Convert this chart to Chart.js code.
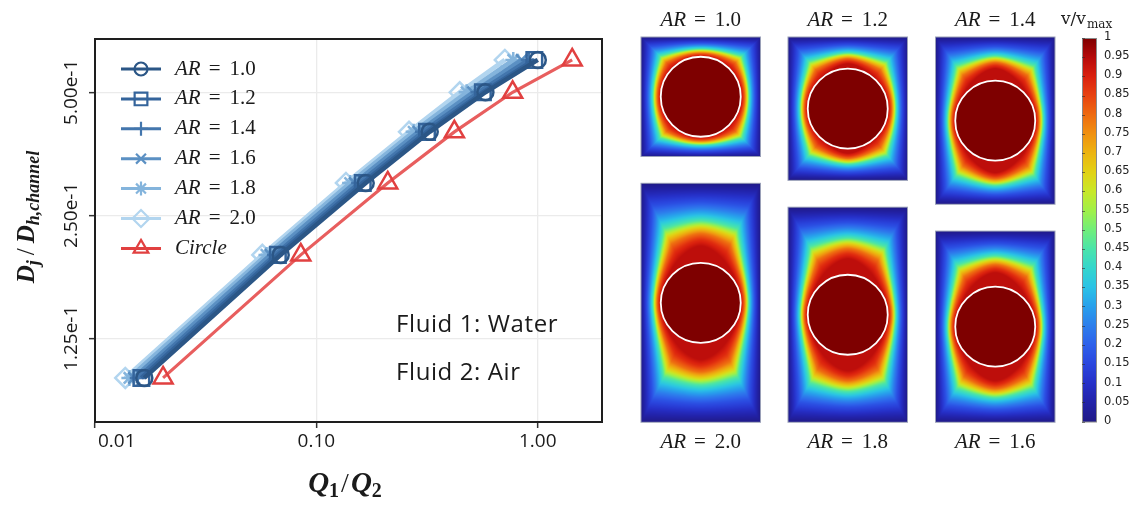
<!DOCTYPE html>
<html><head><meta charset="utf-8">
<script src="https://cdn.jsdelivr.net/npm/chart.js@4/dist/chart.umd.min.js"></script>
<style>html,body{margin:0;padding:0;background:#fff;overflow:hidden}canvas{display:block}</style>
</head><body>
<canvas id="c" width="1135" height="505"></canvas>
<script>
// ---------------- data ----------------
const seriesNames = ['AR = 1.0', 'AR = 1.2', 'AR = 1.4', 'AR = 1.6', 'AR = 1.8', 'AR = 2.0', 'Circle'];
const djRatio = [0.1, 0.2, 0.3, 0.4, 0.5, 0.6];
const qAR10 = [0.0167, 0.069, 0.167, 0.325, 0.58, 1.0];
const qAR12 = [0.0162, 0.067, 0.162, 0.316, 0.565, 0.965];
const qAR14 = [0.0156, 0.065, 0.156, 0.303, 0.54, 0.91];
const qAR16 = [0.0150, 0.062, 0.149, 0.289, 0.51, 0.845];
const qAR18 = [0.0143, 0.0595, 0.142, 0.275, 0.477, 0.775];
const qAR20 = [0.0137, 0.057, 0.136, 0.262, 0.444, 0.71];
const qCircle = [0.0203, 0.085, 0.21, 0.42, 0.77, 1.43];
const xTickValues = [0.01, 0.1, 1];
const xTickLabels = ['0.01', '0.10', '1.00'];
const yTickValues = [0.125, 0.25, 0.5];
const yTickLabels = ['1.25e-1', '2.50e-1', '5.00e-1'];
const panelAR = [1.0, 1.2, 1.4, 2.0, 1.8, 1.6];
const panelLabels = ['1.0', '1.2', '1.4', '2.0', '1.8', '1.6'];
const colorbarTicks = [0, 0.05, 0.1, 0.15, 0.2, 0.25, 0.3, 0.35, 0.4, 0.45, 0.5, 0.55, 0.6, 0.65, 0.7, 0.75, 0.8, 0.85, 0.9, 0.95, 1];
const colorbarLabels = ['0', '0.05', '0.1', '0.15', '0.2', '0.25', '0.3', '0.35', '0.4', '0.45', '0.5', '0.55', '0.6', '0.65', '0.7', '0.75', '0.8', '0.85', '0.9', '0.95', '1'];

// ---------------- styles ----------------
const seriesX = [qAR10, qAR12, qAR14, qAR16, qAR18, qAR20, qCircle];
const seriesColor = ['#2b5686', '#34649b', '#4376ad', '#5b90c3', '#84b4dc', '#b2d5ef', '#e14040'];
const lineColor = ['#2b5686', '#34649b', '#4376ad', '#5b90c3', '#84b4dc', '#b2d5ef', '#e85e5e'];
const seriesStyle = ['circle', 'rect', 'cross', 'crossRot', 'star', 'rectRot', 'triangle'];
const seriesRadius = [8, 11, 8, 8, 8, 10, 11];
const legendRadius = [6.5, 9, 7, 7, 7, 8.5, 8.5];

const cmapStops = [
  [0.00, 32, 26, 135], [0.05, 34, 34, 168], [0.10, 38, 48, 200], [0.15, 42, 70, 222],
  [0.20, 45, 96, 234], [0.25, 45, 126, 236], [0.30, 40, 160, 236], [0.35, 42, 194, 230],
  [0.40, 52, 214, 205], [0.45, 74, 228, 170], [0.50, 112, 238, 122], [0.55, 160, 240, 72],
  [0.60, 200, 232, 40], [0.65, 226, 210, 20], [0.70, 236, 180, 16], [0.75, 240, 145, 16],
  [0.80, 238, 106, 16], [0.85, 232, 66, 16], [0.90, 218, 32, 14], [0.95, 182, 10, 10], [1.00, 126, 0, 0]
];
function lerpTable(tab, v) {
  if (v <= tab[0][0]) return tab[0].slice(1);
  for (let i = 1; i < tab.length; i++) {
    const b = tab[i];
    if (v <= b[0]) {
      const a = tab[i - 1];
      const t = (v - a[0]) / (b[0] - a[0]);
      return a.slice(1).map((x, k) => x + t * (b[k + 1] - x));
    }
  }
  return tab[tab.length - 1].slice(1);
}
function cmap(v) { return lerpTable(cmapStops, Math.max(0, Math.min(1, v))); }
// fall-off of the velocity between the fast core (s=0) and the wall (s=1)
const profileStops = [[0, 0.94], [0.1, 0.88], [0.2, 0.79], [0.3, 0.64], [0.4, 0.46], [0.5, 0.34], [0.6, 0.25], [0.7, 0.17], [0.85, 0.08], [1, 0]];
// vertical stretch of the fast core around the droplet, per panel
const coreStretch = [1.0, 1.12, 1.3, 1.42, 1.4, 1.35];
const CORE_Q = 1.7;

// panel geometry
const PW = 119.5, PR = 40;
const colX = [641, 788, 935.5];
const topRowY = 37, bottomRowBottom = 422.3;
function panelRect(i) {
  const ar = panelAR[i];
  const h = PW * ar;
  const x = colX[i % 3];
  const y = i < 3 ? topRowY : bottomRowBottom - h;
  return { x, y, w: PW, h, ar };
}
function buildPanel(i) {
  const r = panelRect(i);
  const W = Math.round(r.w), H = Math.round(r.h);
  const cv = document.createElement('canvas'); cv.width = W; cv.height = H;
  const c2 = cv.getContext('2d');
  const img = c2.createImageData(W, H);
  const hw = W / 2, hh = H / 2;
  const bR = PR * coreStretch[i];
  for (let j = 0; j < H; j++) {
    for (let k = 0; k < W; k++) {
      const dx = k + 0.5 - hw, dy = j + 0.5 - hh;
      const rr = Math.hypot(dx, dy);
      let v = 1;
      if (rr > PR) {
        const rhoC = rr / PR;
        const rhoE = Math.pow(Math.pow(Math.abs(dx) / PR, CORE_Q) + Math.pow(Math.abs(dy) / bR, CORE_Q), 1 / CORE_Q);
        const rho = Math.min(rhoC, rhoE);
        if (rho <= 1) v = profileStops[0][1];
        else {
          const ux = Math.abs(dx) / rr, uy = Math.abs(dy) / rr;
          const tw = Math.min(ux > 1e-9 ? hw / ux : 1e9, uy > 1e-9 ? hh / uy : 1e9);
          const rhoW = rho * tw / rr;
          const s = (rho - 1) / Math.max(1e-6, rhoW - 1);
          v = lerpTable(profileStops, Math.min(1, s))[0];
        }
      }
      const col = cmap(v);
      const p = (j * W + k) * 4;
      img.data[p] = col[0]; img.data[p + 1] = col[1]; img.data[p + 2] = col[2]; img.data[p + 3] = 255;
    }
  }
  c2.putImageData(img, 0, 0);
  return cv;
}
const panelImages = panelAR.map((_, i) => buildPanel(i));

// ---------------- text helpers ----------------
const MATH = '"Liberation Serif", "Times New Roman", serif';
function drawAR(ctx, value, cx, cy, align) {
  ctx.save();
  ctx.textBaseline = 'middle';
  ctx.fillStyle = '#1a1a1a';
  const fi = 'italic 21px ' + MATH, fr = '21px ' + MATH;
  ctx.font = fi; const w1 = ctx.measureText('AR').width;
  ctx.font = fr; const w2 = ctx.measureText('=').width; const w3 = ctx.measureText(value).width;
  const g1 = 8, g2 = 9;
  const total = w1 + g1 + w2 + g2 + w3;
  let x = align === 'center' ? cx - total / 2 : cx;
  ctx.textAlign = 'left';
  ctx.font = fi; ctx.fillText('AR', x, cy); x += w1 + g1;
  ctx.font = fr; ctx.fillText('=', x, cy); x += w2 + g2;
  ctx.fillText(value, x, cy);
  ctx.restore();
}

function markerPath(ctx, style, x, y, r) {
  if (Chart.helpers && Chart.helpers.drawPoint) {
    Chart.helpers.drawPoint(ctx, { pointStyle: style, radius: r, rotation: 0, borderWidth: ctx.lineWidth }, x, y);
  }
}

// measure y tick labels to center them
const mctx = document.createElement('canvas').getContext('2d');
mctx.font = '19px "Open Sans"';
const yLabelW = Math.max(...yTickLabels.map(t => mctx.measureText(t).width));
const TICK_LEN = 6;
const yPad = 95 - TICK_LEN - yLabelW / 2 - 72;

// ---------------- decoration plugin ----------------
const decor = {
  id: 'decor',
  afterDraw(chart) {
    const ctx = chart.ctx, a = chart.chartArea;
    ctx.save();
    // frame
    ctx.strokeStyle = '#1e1e1e'; ctx.lineWidth = 2;
    ctx.strokeRect(a.left, a.top, a.right - a.left, a.bottom - a.top);

    // legend
    seriesNames.forEach((name, i) => {
      const y = 69 + i * 29.9;
      ctx.strokeStyle = seriesColor[i]; ctx.lineWidth = 3;
      ctx.beginPath(); ctx.moveTo(121, y); ctx.lineTo(161, y); ctx.stroke();
      ctx.fillStyle = 'rgba(0,0,0,0)'; ctx.lineWidth = 2.2;
      markerPath(ctx, seriesStyle[i], 141, y, legendRadius[i]);
      if (i < 6) drawAR(ctx, name.split('= ')[1], 175, y, 'left');
      else {
        ctx.font = 'italic 21px ' + MATH; ctx.fillStyle = '#1a1a1a';
        ctx.textAlign = 'left'; ctx.textBaseline = 'middle';
        ctx.fillText(name, 175, y);
      }
    });

    // annotations
    ctx.fillStyle = '#1a1a1a'; ctx.textAlign = 'left'; ctx.textBaseline = 'alphabetic';
    ctx.font = '24px "Open Sans"';
    try { ctx.letterSpacing = '0.6px'; } catch (e) {}
    ctx.fillText('Fluid 1: Water', 396, 332);
    ctx.fillText('Fluid 2: Air', 396, 380);
    try { ctx.letterSpacing = '0px'; } catch (e) {}

    // x title Q1/Q2
    {
      const fQ = 'bold italic 29px ' + MATH, fS = 'bold 20px ' + MATH, fSl = '28px ' + MATH;
      ctx.font = fQ; const wQ = ctx.measureText('Q').width;
      ctx.font = fS; const wS = ctx.measureText('1').width;
      ctx.font = fSl; const wSl = ctx.measureText('/').width;
      const total = 2 * wQ + 2 * wS + wSl + 4;
      let x = 345 - total / 2; const base = 492;
      ctx.textAlign = 'left'; ctx.textBaseline = 'alphabetic';
      ctx.font = fQ; ctx.fillText('Q', x, base); x += wQ;
      ctx.font = fS; ctx.fillText('1', x, base + 5); x += wS + 2;
      ctx.font = fSl; ctx.fillText('/', x, base); x += wSl + 2;
      ctx.font = fQ; ctx.fillText('Q', x, base); x += wQ;
      ctx.font = fS; ctx.fillText('2', x, base + 5);
    }
    // y title D_j / D_h,channel
    {
      ctx.save();
      ctx.translate(34, 217); ctx.rotate(-Math.PI / 2);
      const fD = 'bold italic 25px ' + MATH, fS = 'bold italic 18px ' + MATH, fSl = '25px ' + MATH;
      ctx.font = fD; const wD = ctx.measureText('D').width;
      ctx.font = fS; const wj = ctx.measureText('j').width; const wh = ctx.measureText('h,channel').width;
      ctx.font = fSl; const wSl = ctx.measureText('/').width;
      const total = 2 * wD + wj + wh + wSl + 10;
      let x = -total / 2;
      ctx.textAlign = 'left'; ctx.textBaseline = 'alphabetic';
      ctx.font = fD; ctx.fillText('D', x, 0); x += wD;
      ctx.font = fS; ctx.fillText('j', x, 5); x += wj + 5;
      ctx.font = fSl; ctx.fillText('/', x, 0); x += wSl + 5;
      ctx.font = fD; ctx.fillText('D', x, 0); x += wD;
      ctx.font = fS; ctx.fillText('h,channel', x, 5);
      ctx.restore();
    }

    // heatmap panels
    panelAR.forEach((ar, i) => {
      const r = panelRect(i);
      ctx.drawImage(panelImages[i], r.x, r.y, r.w, r.h);
      ctx.strokeStyle = '#9aa0b8'; ctx.lineWidth = 1;
      ctx.strokeRect(r.x, r.y, r.w, r.h);
      ctx.strokeStyle = '#ffffff'; ctx.lineWidth = 1.8;
      ctx.beginPath(); ctx.arc(r.x + r.w / 2, r.y + r.h / 2, PR, 0, Math.PI * 2); ctx.stroke();
      const cx = r.x + r.w / 2;
      if (i < 3) drawAR(ctx, panelLabels[i], cx, 20, 'center');
      else drawAR(ctx, panelLabels[i], cx, 442, 'center');
    });

    // colorbar
    const cbx = 1082, cbw = 14, cbt = 38, cbb = 421.5;
    for (let y = cbt; y < cbb; y++) {
      const v = (cbb - (y + 0.5)) / (cbb - cbt);
      const c = cmap(v);
      ctx.fillStyle = 'rgb(' + c.map(Math.round).join(',') + ')';
      ctx.fillRect(cbx, y, cbw, 1);
    }
    ctx.strokeStyle = '#8a8a8a'; ctx.lineWidth = 1;
    ctx.strokeRect(cbx + 0.5, cbt + 0.5, cbw, cbb - cbt);
    ctx.fillStyle = '#222'; ctx.font = '11.5px "DejaVu Sans"';
    ctx.textAlign = 'left'; ctx.textBaseline = 'middle';
    colorbarTicks.forEach((t, i) => {
      const y = 421 - t * (421 - 36.7);
      ctx.fillText(colorbarLabels[i], 1104, y);
      ctx.strokeStyle = 'rgba(40,40,40,0.55)';
      const ty = Math.round(cbb - t * (cbb - cbt)) + 0.5;
      ctx.beginPath(); ctx.moveTo(cbx, ty); ctx.lineTo(cbx + 3, ty); ctx.stroke();
    });
    // colorbar title v/v_max
    ctx.fillStyle = '#222'; ctx.textBaseline = 'alphabetic';
    ctx.font = '17px "DejaVu Serif"';
    ctx.fillText('v/v', 1061, 24);
    const wv = ctx.measureText('v/v').width;
    ctx.font = '12px "DejaVu Serif"';
    ctx.fillText('max', 1061 + wv + 1, 28);
    ctx.restore();
  }
};

// ---------------- chart ----------------
const datasets = seriesNames.map((name, i) => ({
  label: name,
  data: seriesX[i].map((x, k) => ({ x: x, y: djRatio[k] })),
  borderColor: lineColor[i],
  borderWidth: i < 6 ? 4.5 : 3.2,
  pointStyle: seriesStyle[i],
  pointRadius: seriesRadius[i],
  pointHoverRadius: seriesRadius[i],
  pointBorderWidth: 2.5,
  pointBorderColor: seriesColor[i],
  pointBackgroundColor: 'rgba(255,255,255,0)',
  fill: false,
  tension: 0
}));

new Chart(document.getElementById('c'), {
  type: 'line',
  data: { datasets },
  options: {
    responsive: false,
    animation: false,
    devicePixelRatio: 1,
    layout: { padding: { left: 0, top: 39, right: 533, bottom: 0 } },
    plugins: { legend: { display: false }, tooltip: { enabled: false } },
    scales: {
      x: {
        type: 'logarithmic', min: 0.01, max: 1.95,
        afterBuildTicks: s => { s.ticks = xTickValues.map(v => ({ value: v })); },
        afterFit: s => { s.height = 83; },
        ticks: {
          autoSkip: false, maxRotation: 0, minRotation: 0, padding: 2,
          font: { family: 'Open Sans', size: 19 }, color: '#1a1a1a',
          callback: (v, i) => (i === 0 ? '\u2007\u2007\u2007\u2007' : '') + xTickLabels[i]
        },
        grid: { color: '#ebebeb', lineWidth: 1.3, tickLength: TICK_LEN, tickColor: '#333', tickWidth: 1.5 },
        border: { color: '#1e1e1e', width: 2 }
      },
      y: {
        type: 'logarithmic', min: 0.078, max: 0.675,
        afterBuildTicks: s => { s.ticks = yTickValues.map(v => ({ value: v })); },
        afterFit: s => { s.width = 95; },
        ticks: {
          autoSkip: false, minRotation: 90, maxRotation: 90, crossAlign: 'center', padding: yPad,
          font: { family: 'Open Sans', size: 19 }, color: '#1a1a1a',
          callback: (v, i) => yTickLabels[i]
        },
        grid: { color: '#ebebeb', lineWidth: 1.3, tickLength: TICK_LEN, tickColor: '#333', tickWidth: 1.5 },
        border: { color: '#1e1e1e', width: 2 }
      }
    }
  },
  plugins: [decor]
});
</script>
</body></html>
